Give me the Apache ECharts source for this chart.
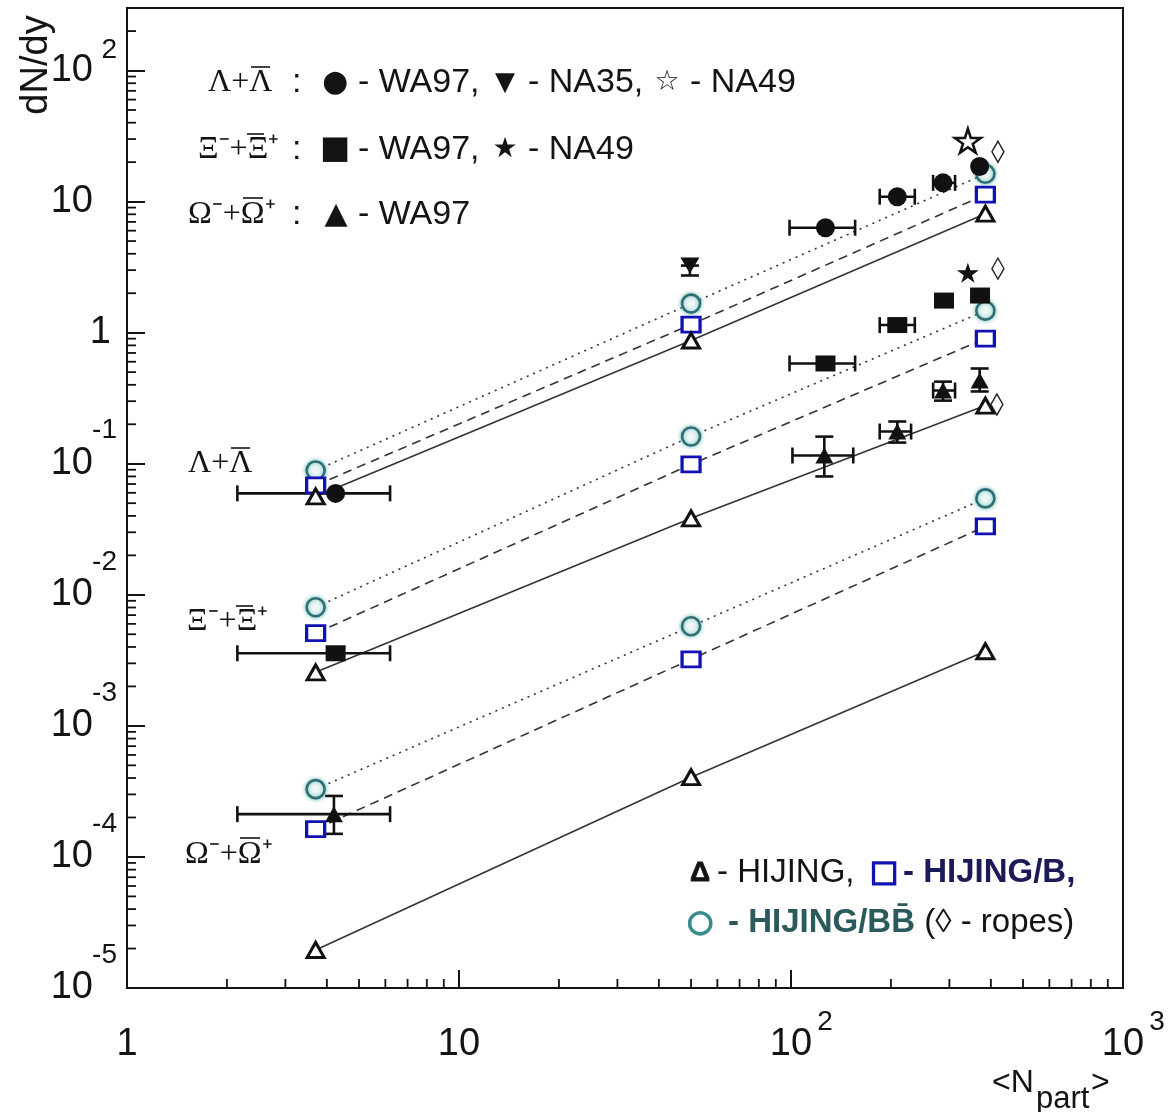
<!DOCTYPE html>
<html><head><meta charset="utf-8">
<script src="https://cdn.jsdelivr.net/npm/echarts@6/dist/echarts.min.js"></script>
<style>html,body{margin:0;padding:0;background:#fff}#c{width:1173px;height:1112px}</style>
</head><body><div id="c"></div>
<script>
// ---------- axis tick labels ----------
const xTickPowers = [0, 1, 2, 3];
const xTickBase = ['1', '10', '10', '10'];
const xTickExp = ['', '', '2', '3'];
const yTickPowers = [-5, -4, -3, -2, -1, 0, 1, 2];
const yTickBase = ['10', '10', '10', '10', '10', '1', '10', '10'];
const yTickExp = ['-5', '-4', '-3', '-2', '-1', '', '', '2'];
const minorMultiples = [2, 3, 4, 5, 6, 7, 8, 9];
const xDecades = [1, 10, 100];
const yDecades = [1e-5, 1e-4, 1e-3, 1e-2, 1e-1, 1, 10, 100];

// ---------- model calculations (N_part, dN/dy) ----------
const modelX = [3.7, 50, 385];
const lamHIJING = [0.0563, 0.871, 8.09];
const lamHIJINGB = [0.0684, 1.153, 11.3];
const lamHIJINGBB = [0.0889, 1.667, 16.3];
const xiHIJING = [0.00256, 0.0383, 0.278];
const xiHIJINGB = [0.00509, 0.0988, 0.902];
const xiHIJINGBB = [0.00803, 0.1615, 1.472];
const omHIJING = [1.95e-5, 4.06e-4, 3.71e-3];
const omHIJINGB = [1.63e-4, 3.22e-3, 0.0333];
const omHIJINGBB = [3.29e-4, 5.75e-3, 0.0544];
// ropes
const ropesX = [420, 420, 417];
const ropesY = [24.0, 3.08, 0.283];

// ---------- data ----------
const lamWA97X = [4.25, 127, 209, 287, 370];
const lamWA97Y = [0.0594, 6.32, 10.9, 13.9, 18.5];
const lamWA97XLo = [2.15, 99, 185, 268, null];
const lamWA97XHi = [6.2, 156, 236, 312, null];

const xiWA97X = [4.25, 127, 209, 289, 371];
const xiWA97Y = [0.00358, 0.582, 1.143, 1.757, 1.92];
const xiWA97XLo = [2.15, 99, 185, null, null];
const xiWA97XHi = [6.2, 156, 236, null, null];

const omWA97X = [4.2, 126, 209, 287, 370];
const omWA97Y = [2.12e-4, 0.1156, 0.176, 0.362, 0.431];
const omWA97XLo = [2.15, 101, 185, 268, null];
const omWA97XHi = [6.2, 154, 230, 312, null];
const omWA97YLo = [1.50e-4, 0.080, 0.145, 0.303, 0.356];
const omWA97YHi = [2.92e-4, 0.161, 0.21, 0.423, 0.533];

const na35X = [49.6];
const na35Y = [3.25];
const na35YLo = [2.73];
const na35YHi = [3.25];

const na49LamX = [341];
const na49LamY = [29.1];
const na49XiX = [341];
const na49XiY = [2.87];

// ---------- build ----------
const X_MIN = 1, X_MAX = 1000, Y_MIN = 1e-5, Y_MAX = 300;
const LINE_COL = '#35323a';
const BLUE = '#1212b4';
const TEAL = '#2f6f72';
const pairs = (xs, ys) => xs.map((x, i) => [x, ys[i]]);

function errRows(xs, ys, xlo, xhi, ylo, yhi) {
  return xs.map((x, i) => [x, ys[i],
    xlo && xlo[i] != null ? xlo[i] : NaN, xhi && xhi[i] != null ? xhi[i] : NaN,
    ylo && ylo[i] != null ? ylo[i] : NaN, yhi && yhi[i] != null ? yhi[i] : NaN]);
}
const errData = [].concat(
  errRows(lamWA97X, lamWA97Y, lamWA97XLo, lamWA97XHi, null, null),
  errRows(xiWA97X, xiWA97Y, xiWA97XLo, xiWA97XHi, null, null),
  errRows(omWA97X, omWA97Y, omWA97XLo, omWA97XHi, omWA97YLo, omWA97YHi),
  errRows(na35X, na35Y, null, null, na35YLo, na35YHi)
);

const xMinor = [], yMinor = [];
xDecades.forEach(d => minorMultiples.forEach(m => xMinor.push([d * m, Y_MIN])));
yDecades.forEach(d => minorMultiples.forEach(m => { if (d * m <= Y_MAX) yMinor.push([X_MIN, d * m]); }));

function modelLine(name, ys, type) {
  return { name, type: 'line', data: pairs(modelX, ys), symbol: 'none', z: 2, silent: true,
    lineStyle: { color: LINE_COL, width: 1.6, type: type } };
}
function modelMarks(ys, kind) {
  const base = { type: 'scatter', data: pairs(modelX, ys), z: 4, silent: true };
  if (kind === 'tri') return Object.assign(base, { symbol: 'triangle', symbolSize: [17, 15],
    itemStyle: { opacity: 1, color: '#fff', borderColor: '#111', borderWidth: 3 } });
  if (kind === 'sq') return Object.assign(base, { symbol: 'rect', symbolSize: [18, 15],
    itemStyle: { opacity: 1, color: '#fff', borderColor: BLUE, borderWidth: 3 } });
  return Object.assign(base, { symbol: 'circle', symbolSize: 18,
    itemStyle: { opacity: 1, color: '#eef7f7', borderColor: TEAL, borderWidth: 2.6, shadowBlur: 4, shadowColor: '#6fbcbc' } });
}
const STAR = 'path://M50,0 L61,35 L98,35 L68,57 L79,91 L50,70 L21,91 L32,57 L2,35 L39,35 Z';
const INK = '#111111';

const series = [
  modelLine('HIJING Λ', lamHIJING, 'solid'),
  modelLine('HIJING/B Λ', lamHIJINGB, [9, 6]),
  modelLine('HIJING/BB Λ', lamHIJINGBB, [2, 5]),
  modelLine('HIJING Ξ', xiHIJING, 'solid'),
  modelLine('HIJING/B Ξ', xiHIJINGB, [9, 6]),
  modelLine('HIJING/BB Ξ', xiHIJINGBB, [2, 5]),
  modelLine('HIJING Ω', omHIJING, 'solid'),
  modelLine('HIJING/B Ω', omHIJINGB, [9, 6]),
  modelLine('HIJING/BB Ω', omHIJINGBB, [2, 5]),
  modelMarks(lamHIJINGBB, 'circ'), modelMarks(lamHIJINGB, 'sq'), modelMarks(lamHIJING, 'tri'),
  modelMarks(xiHIJINGBB, 'circ'), modelMarks(xiHIJINGB, 'sq'), modelMarks(xiHIJING, 'tri'),
  modelMarks(omHIJINGBB, 'circ'), modelMarks(omHIJINGB, 'sq'), modelMarks(omHIJING, 'tri'),
  { type: 'scatter', data: pairs(ropesX, ropesY), symbol: 'diamond', symbolSize: [12, 21], z: 4,
    itemStyle: { opacity: 1, color: '#fff', borderColor: '#222', borderWidth: 1.5 } },
  { type: 'custom', z: 3, silent: true, data: errData, clip: false,
    renderItem: function (params, api) {
      const x = api.value(0), y = api.value(1);
      const xl = api.value(2), xh = api.value(3), yl = api.value(4), yh = api.value(5);
      const st = { stroke: INK, lineWidth: 2.6 };
      const ch = [];
      if (!isNaN(xl) && !isNaN(xh)) {
        const a = api.coord([xl, y]), b = api.coord([xh, y]);
        ch.push({ type: 'line', shape: { x1: a[0], y1: a[1], x2: b[0], y2: b[1] }, style: st });
        ch.push({ type: 'line', shape: { x1: a[0], y1: a[1] - 8, x2: a[0], y2: a[1] + 8 }, style: st });
        ch.push({ type: 'line', shape: { x1: b[0], y1: b[1] - 8, x2: b[0], y2: b[1] + 8 }, style: st });
      }
      if (!isNaN(yl) && !isNaN(yh)) {
        const a = api.coord([x, yl]), b = api.coord([x, yh]);
        ch.push({ type: 'line', shape: { x1: a[0], y1: a[1], x2: b[0], y2: b[1] }, style: st });
        ch.push({ type: 'line', shape: { x1: a[0] - 9, y1: a[1], x2: a[0] + 9, y2: a[1] }, style: st });
        ch.push({ type: 'line', shape: { x1: b[0] - 9, y1: b[1], x2: b[0] + 9, y2: b[1] }, style: st });
      }
      return { type: 'group', children: ch };
    } },
  { type: 'scatter', data: pairs(lamWA97X, lamWA97Y), symbol: 'circle', symbolSize: 19, z: 5,
    itemStyle: { opacity: 1, color: INK } },
  { type: 'scatter', data: pairs(xiWA97X, xiWA97Y), symbol: 'rect', symbolSize: [20, 16], z: 5,
    itemStyle: { opacity: 1, color: INK } },
  { type: 'scatter', data: pairs(omWA97X, omWA97Y), symbol: 'triangle', symbolSize: [18, 16], z: 5,
    itemStyle: { opacity: 1, color: INK } },
  { type: 'scatter', data: pairs(na35X, na35Y), symbol: 'triangle', symbolRotate: 180, symbolSize: [19, 16], z: 5,
    itemStyle: { opacity: 1, color: INK } },
  { type: 'scatter', data: pairs(na49LamX, na49LamY), symbol: STAR, symbolSize: [26, 24], z: 5,
    itemStyle: { opacity: 1, color: '#fff', borderColor: INK, borderWidth: 2.5 } },
  { type: 'scatter', data: pairs(na49XiX, na49XiY), symbol: STAR, symbolSize: [22, 20], z: 5,
    itemStyle: { opacity: 1, color: INK } },
  // minor ticks
  { type: 'custom', z: 6, silent: true, data: xMinor, clip: false,
    renderItem: function (params, api) {
      const p = api.coord([api.value(0), api.value(1)]);
      return { type: 'line', shape: { x1: p[0], y1: p[1], x2: p[0], y2: p[1] - 9 }, style: { stroke: INK, lineWidth: 1.8 } };
    } },
  { type: 'custom', z: 6, silent: true, data: yMinor, clip: false,
    renderItem: function (params, api) {
      const p = api.coord([api.value(0), api.value(1)]);
      return { type: 'line', shape: { x1: p[0], y1: p[1], x2: p[0] + 9, y2: p[1] }, style: { stroke: INK, lineWidth: 1.8 } };
    } }
];

const SANS = '"Liberation Sans", Arial, Helvetica, sans-serif';
const SERIF = '"Liberation Serif", "Times New Roman", serif';
const SYM = '"DejaVu Sans", sans-serif';
function T(text, x, y, size, opt) {
  opt = opt || {};
  const st = { text: text, fontSize: size, fontFamily: opt.family || SANS, fontWeight: opt.weight || 'normal',
      fill: opt.fill || '#141414', align: opt.align || 'left', verticalAlign: 'middle' };
  if (opt.stroke) { st.stroke = opt.stroke; st.lineWidth = opt.lw || 1.2; }
  return { type: 'text', x: x, y: y, z: 100, silent: true, style: st };
}
// particle label with an overline (antiparticle bar) above the second letter
function particle(text, x, y, bar) {
  return [
    T(text, x, y, 32, { family: SERIF }),
    { type: 'line', z: 100, silent: true,
      shape: { x1: x + bar[0], y1: y + bar[2], x2: x + bar[1], y2: y + bar[2] },
      style: { stroke: '#141414', lineWidth: 1.6 } }
  ];
}
const BAR_LAM = [43, 62, -16];
const BAR_XI = [49, 66, -16];
const BAR_OM = [55, 75, -17];

const graphics = [].concat(
  [{ type: 'text', x: 37, y: 65, rotation: Math.PI / 2, z: 100,
    style: { text: 'dN/dy', fontSize: 38, fontFamily: SANS, fill: '#141414', align: 'center', verticalAlign: 'middle' } },
  T('<N', 992, 1083, 32), T('part', 1036, 1099, 31), T('>', 1091, 1083, 32)],
  // top legend
  particle('Λ+Λ', 208, 83, BAR_LAM),
  [T(':', 292, 83, 34),
  T('●', 335, 83, 30, { family: SYM, align: 'center' }), T('- WA97,', 358, 83, 34),
  T('▼', 505, 83, 26, { family: SYM, align: 'center' }), T('- NA35,', 528, 83, 34),
  T('☆', 667, 83, 28, { family: SYM, align: 'center' }), T('- NA49', 690, 83, 34)],
  particle('Ξ⁻+Ξ⁺', 198, 150, BAR_XI),
  [T(':', 292, 150, 34),
  T('■', 335, 150, 32, { family: SYM, align: 'center' }), T('- WA97,', 358, 150, 34),
  T('★', 505, 150, 28, { family: SYM, align: 'center' }), T('- NA49', 528, 150, 34)],
  particle('Ω⁻+Ω⁺', 188, 215, BAR_OM),
  [T(':', 292, 215, 34),
  T('▲', 336, 215, 30, { family: SYM, align: 'center' }), T('- WA97', 358, 215, 34)],
  // species labels
  particle('Λ+Λ', 188, 464, BAR_LAM),
  particle('Ξ⁻+Ξ⁺', 187, 622, BAR_XI),
  particle('Ω⁻+Ω⁺', 185, 855, BAR_OM),
  // bottom legend
  [T('Δ', 700, 873, 28, { align: 'center', weight: 'bold', stroke: '#141414', lw: 0.8 }), T('- HIJING,', 717, 873, 33),
  T('□', 884, 873, 30, { family: SYM, align: 'center', weight: 'bold', fill: BLUE, stroke: BLUE, lw: 1.6 }),
  T('- HIJING/B,', 903, 873, 33, { weight: 'bold', fill: '#1b1b5a' }),
  T('○', 700, 923, 30, { family: SYM, align: 'center', weight: 'bold', fill: '#3a8c8e', stroke: '#3a8c8e', lw: 1.8 }),
  { type: 'text', x: 728, y: 923, z: 100, silent: true,
    style: { text: '{b|- HIJING/BB\u0304}{r| (◊ - ropes)}', verticalAlign: 'middle', align: 'left',
      rich: { b: { fontSize: 33, fontFamily: SANS, fontWeight: 'bold', fill: '#2b5a5c' },
              r: { fontSize: 33, fontFamily: SANS, fill: '#141414' } } } }]
);

const chart = echarts.init(document.getElementById('c'), null, { renderer: 'canvas' });
chart.setOption({
  backgroundColor: '#ffffff',
  animation: false,
  grid: { left: 127, right: 50, top: 8, bottom: 124, show: true, borderColor: '#141414', borderWidth: 2, backgroundColor: 'transparent' },
  xAxis: {
    type: 'log', logBase: 10, min: X_MIN, max: X_MAX,
    axisLine: { show: true, lineStyle: { color: '#141414', width: 2 } },
    axisTick: { show: true, inside: true, length: 18, lineStyle: { color: '#141414', width: 2 } },
    splitLine: { show: false },
    axisLabel: {
      margin: 29, color: '#141414',
      formatter: function (v) {
        const k = Math.round(Math.log10(v));
        if (Math.abs(Math.log10(v) - k) > 1e-6) return '';
        const i = xTickPowers.indexOf(k);
        if (i < 0) return '';
        return '{e|' + (xTickExp[i] || ' ') + '}\n{b|' + xTickBase[i] + '}';
      },
      rich: {
        e: { fontSize: 28, fontFamily: SANS, lineHeight: 10, align: 'center', padding: [0, 0, 0, 68], color: '#141414' },
        b: { fontSize: 38, fontFamily: SANS, lineHeight: 36, align: 'center', color: '#141414' }
      }
    }
  },
  yAxis: {
    type: 'log', logBase: 10, min: Y_MIN, max: Y_MAX,
    axisLine: { show: true, lineStyle: { color: '#141414', width: 2 } },
    axisTick: { show: true, inside: true, length: 18, lineStyle: { color: '#141414', width: 2 } },
    splitLine: { show: false },
    axisLabel: {
      margin: 10, color: '#141414',
      formatter: function (v) {
        const k = Math.round(Math.log10(v));
        if (Math.abs(Math.log10(v) - k) > 1e-6) return '';
        const i = yTickPowers.indexOf(k);
        if (i < 0) return '';
        const e = yTickExp[i], b = yTickBase[i];
        if (e === '') return b === '1' ? '{one|1}' : '{b0|' + b + '}';
        if (e.charAt(0) === '-') return '{en|' + e + '}\n{bn|' + b + '}\n{sn| }';
        return '{ep|' + e + '}\n{bp|' + b + '}\n{sp| }';
      },
      rich: {
        one: { fontSize: 38, fontFamily: SANS, align: 'right', padding: [0, 6, 0, 0], color: '#141414' },
        b0: { fontSize: 38, fontFamily: SANS, align: 'right', padding: [0, 24, 0, 0], color: '#141414' },
        en: { fontSize: 28, fontFamily: SANS, lineHeight: 26, align: 'right', color: '#141414' },
        bn: { fontSize: 38, fontFamily: SANS, lineHeight: 40, align: 'right', padding: [0, 24, 0, 0], color: '#141414' },
        sn: { fontSize: 10, lineHeight: 26, align: 'right' },
        ep: { fontSize: 28, fontFamily: SANS, lineHeight: 16, align: 'right', color: '#141414' },
        bp: { fontSize: 38, fontFamily: SANS, lineHeight: 24, align: 'right', padding: [0, 24, 0, 0], color: '#141414' },
        sp: { fontSize: 10, lineHeight: 16, align: 'right' }
      }
    }
  },
  graphic: graphics,
  series: series
});
</script>
</body></html>
